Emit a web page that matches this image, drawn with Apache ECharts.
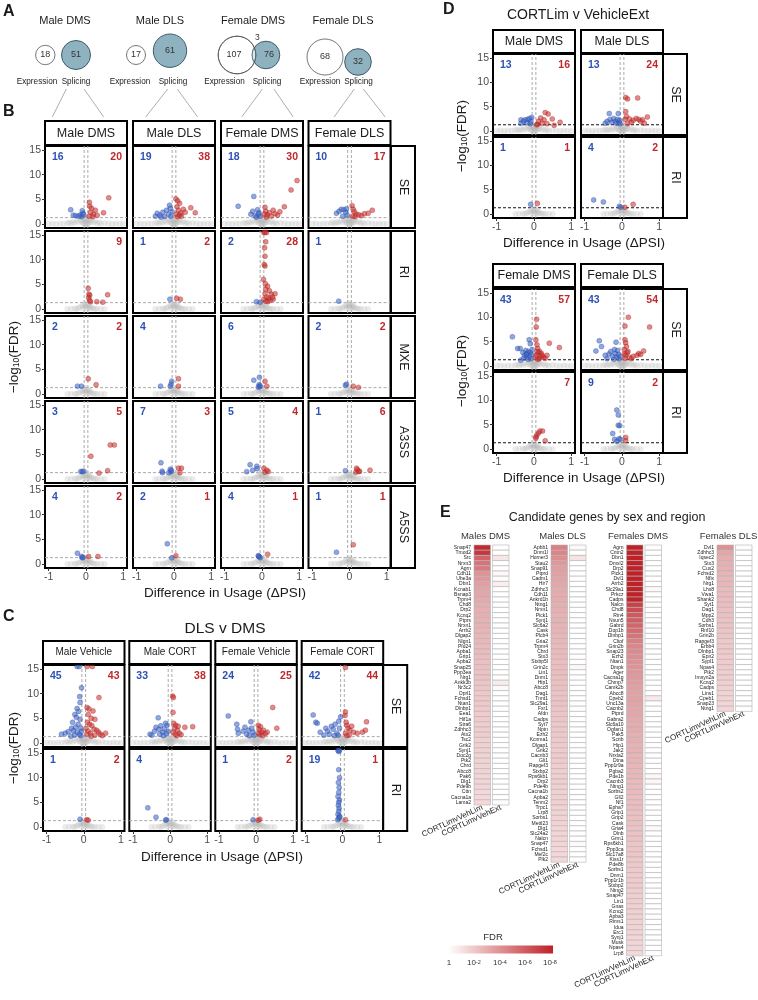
<!DOCTYPE html>
<html><head><meta charset="utf-8">
<script src="https://cdn.jsdelivr.net/npm/echarts@6.0.0/dist/echarts.min.js"></script>
<style>html,body{margin:0;padding:0;background:#fff}#c{width:758px;height:1000px}</style>
</head><body><div id="c"></div>
<script>
// ---------------- DATA ----------------
const vennGroups = ['Male DMS','Male DLS','Female DMS','Female DLS'];
const vennExpr = [18,17,107,68];
const vennSplice = [51,61,76,32];
const vennOverlap = [0,0,3,0];

const bCols = ['Male DMS','Male DLS','Female DMS','Female DLS'];
const bRows = ['SE','RI','MXE','A3SS','A5SS'];
const bBlueN = [[16,19,18,10],[null,1,2,1],[2,4,6,2],[3,7,5,1],[4,2,4,1]];
const bRedN  = [[20,38,30,17],[9,2,28,null],[2,null,null,2],[5,3,4,6],[2,1,1,1]];
const bBlue = [
 [[[-0.41,2.9],[-0.34,1.8],[-0.28,1.7],[-0.16,1.85],[-0.1,2.7],[-0.08,2.2],[-0.12,1.5],[-0.06,1.9],[-0.2,1.6]],
  [[-0.5,1.6],[-0.45,2.2],[-0.38,1.8],[-0.3,2.4],[-0.25,1.5],[-0.2,2.8],[-0.15,2.0],[-0.1,3.2],[-0.08,1.6],[-0.12,3.8],[-0.05,2.5],[-0.35,1.4]],
  [[-0.64,3.6],[-0.22,5.6],[-0.3,2.0],[-0.25,2.6],[-0.18,1.7],[-0.12,2.9],[-0.08,2.3],[-0.05,1.6],[-0.15,1.4],[-0.1,2.0]],
  [[-0.35,2.2],[-0.28,2.6],[-0.22,3.0],[-0.15,2.9],[-0.1,2.4],[-0.06,1.8],[-0.18,1.6],[-0.08,3.1]]],
 [[],[[-0.11,2.0]],[[-0.15,1.5],[-0.05,1.4]],[[-0.29,1.6]]],
 [[[-0.23,1.6],[-0.12,1.6]],
  [[-0.36,1.6],[-0.06,2.6],[-0.08,2.0],[-0.1,1.6]],
  [[-0.22,2.8],[-0.07,3.4],[-0.08,1.9],[-0.06,1.5],[-0.05,1.7],[-0.1,1.4]],
  [[-0.11,1.8],[-0.08,2.0]]],
 [[[-0.14,1.55],[-0.1,1.5],[-0.06,1.6]],
  [[-0.35,3.3],[-0.32,1.6],[-0.31,1.3],[-0.1,2.0],[-0.08,1.5],[-0.14,1.3],[-0.07,1.8]],
  [[-0.41,1.5],[-0.32,2.9],[-0.25,1.8],[-0.14,2.6],[-0.13,2.1]],
  [[-0.11,1.7]]],
 [[[-0.23,2.2],[-0.12,1.55],[-0.1,1.25],[-0.08,1.4]],
  [[-0.18,4.1],[-0.06,1.25]],
  [[-0.1,1.7],[-0.07,1.5],[-0.05,1.3],[-0.09,1.6]],
  [[-0.35,2.4]]]
];
const bRed = [
 [[[0.09,4.4],[0.1,3.6],[0.15,3.2],[0.2,2.0],[0.25,2.8],[0.12,2.4],[0.3,1.8],[0.47,2.3],[0.61,5.3],[0.08,1.6],[0.18,1.5]],
  [[0.05,5.1],[0.1,4.7],[0.15,4.2],[0.08,3.5],[0.12,2.8],[0.18,2.2],[0.06,2.0],[0.2,1.6],[0.25,3.0],[0.3,2.4],[0.1,1.5],[0.45,3.3],[0.57,2.3],[0.15,1.8]],
  [[0.94,8.8],[0.78,6.9],[0.6,3.5],[0.08,3.4],[0.1,2.6],[0.14,1.9],[0.2,2.3],[0.25,1.6],[0.3,2.8],[0.35,2.1],[0.42,1.8],[0.48,2.5],[0.12,1.4],[0.06,2.0]],
  [[0.07,3.7],[0.1,3.0],[0.13,2.5],[0.18,2.0],[0.25,1.9],[0.32,1.7],[0.4,2.1],[0.5,2.2],[0.61,2.8],[0.08,1.6],[0.15,1.5]]],
 [[[0.06,4.2],[0.08,3.0],[0.1,2.8],[0.07,2.3],[0.12,1.5],[0.29,1.5],[0.45,1.4],[0.58,2.9],[0.1,1.8]],
  [[0.07,2.2],[0.17,2.0]],
  [[0.05,15.5],[0.08,15.5],[0.12,15.5],[0.1,13.6],[0.07,12.4],[0.08,10.7],[0.06,9.0],[0.08,8.7],[0.04,6.0],[0.09,5.1],[0.15,4.6],[0.1,4.0],[0.2,3.7],[0.08,3.1],[0.25,3.0],[0.13,2.4],[0.18,2.2],[0.3,2.0],[0.22,1.8],[0.1,1.6],[0.35,3.1],[0.28,2.4],[0.05,2.0],[0.16,1.5]],
  []],
 [[[0.06,3.1],[0.27,1.9]],[[0.12,3.1],[0.12,1.6]],[[0.08,2.6],[0.13,1.6]],[[0.1,1.6],[0.24,1.35]]],
 [[[0.13,4.6],[0.35,1.2],[0.58,1.7],[0.65,6.9],[0.76,6.9]],
  [[0.12,2.2],[0.2,2.2],[0.16,1.3]],
  [[0.05,2.2],[0.08,1.4],[0.17,1.5],[0.13,1.8]],
  [[0.19,2.2],[0.17,1.4],[0.25,1.5],[0.55,1.8],[0.21,1.9],[0.27,1.6]]],
 [[[0.07,1.55],[0.32,1.55]],[[0.05,1.7]],[[0.15,2.0]],[[0.1,3.9]]]
];

const cCols = ['Male Vehicle','Male CORT','Female Vehicle','Female CORT'];
const cRows = ['SE','RI'];
const cBlueN = [[45,33,24,42],[1,4,1,19]];
const cRedN  = [[43,38,25,44],[2,null,2,1]];
const cBlue = [
 [[[-0.18,15.5],[-0.12,15.5],[-0.06,11.2],[-0.11,9.4],[-0.1,8.2],[-0.18,7.0],[-0.14,6.4],[-0.24,5.8],[-0.2,5.2],[-0.1,4.8],[-0.3,4.2],[-0.15,3.8],[-0.33,3.0],[-0.22,3.2],[-0.08,3.0],[-0.42,2.3],[-0.5,2.0],[-0.6,1.8],[-0.28,2.5],[-0.18,2.2],[-0.12,1.8],[-0.06,2.4],[-0.25,1.6],[-0.08,1.5],[-0.35,1.4]],
  [[-0.32,5.1],[-0.54,1.8],[-0.49,1.6],[-0.42,2.4],[-0.38,3.2],[-0.3,2.8],[-0.25,3.5],[-0.2,2.2],[-0.15,2.9],[-0.1,1.9],[-0.08,3.6],[-0.05,2.4],[-0.18,1.5],[-0.12,4.0],[-0.28,1.8]],
  [[-0.75,5.5],[-0.52,3.8],[-0.48,2.0],[-0.5,2.8],[-0.35,2.4],[-0.3,3.2],[-0.25,1.8],[-0.2,2.6],[-0.14,4.3],[-0.12,3.0],[-0.08,2.2],[-0.05,1.6],[-0.18,1.5]],
  [[-0.79,5.7],[-0.72,4.2],[-0.68,4.0],[-0.6,2.2],[-0.45,3.0],[-0.4,2.4],[-0.35,1.8],[-0.3,3.4],[-0.25,2.8],[-0.2,3.8],[-0.15,2.0],[-0.1,4.4],[-0.05,5.3],[-0.08,3.0],[-0.12,1.6],[-0.22,1.5],[-0.5,1.6]]],
 [[[-0.1,1.6]],
  [[-0.6,3.9],[-0.38,2.0],[-0.1,1.5],[-0.12,1.4]],
  [[-0.08,1.5]],
  [[-0.12,15.5],[-0.08,15.5],[-0.1,15.3],[-0.1,11.6],[-0.08,10.0],[-0.11,9.0],[-0.09,8.0],[-0.1,7.0],[-0.12,6.2],[-0.08,5.5],[-0.1,5.0],[-0.11,4.4],[-0.09,3.8],[-0.1,3.2],[-0.12,2.6],[-0.08,2.2],[-0.1,1.8],[-0.13,1.5],[-0.07,2.0]]]
];
const cRed = [
 [[[0.09,15.5],[0.23,15.5],[0.41,9.2],[0.09,7.2],[0.14,6.9],[0.25,6.5],[0.12,5.8],[0.2,5.0],[0.3,4.8],[0.1,4.2],[0.16,3.8],[0.22,3.5],[0.06,3.0],[0.28,2.8],[0.35,2.6],[0.12,2.4],[0.4,2.2],[0.18,2.0],[0.08,1.8],[0.3,1.6],[0.45,1.8],[0.59,2.0],[0.5,1.5],[0.2,1.4]],
  [[0.07,9.5],[0.09,9.2],[0.08,6.2],[0.1,4.0],[0.15,3.6],[0.12,3.0],[0.2,2.6],[0.08,2.2],[0.25,2.0],[0.3,1.7],[0.18,1.5],[0.4,3.2],[0.61,3.3],[0.14,1.8],[0.22,3.4]],
  [[0.45,7.2],[0.56,3.0],[0.06,3.6],[0.08,2.8],[0.12,3.3],[0.15,2.2],[0.2,2.6],[0.1,1.7],[0.25,1.9],[0.3,2.2],[0.18,1.5],[0.07,2.0]],
  [[0.08,15.3],[0.08,6.3],[0.07,5.6],[0.1,4.2],[0.12,3.6],[0.15,3.0],[0.2,2.6],[0.25,3.4],[0.08,2.0],[0.3,2.2],[0.4,2.0],[0.54,2.2],[0.62,2.6],[0.65,4.3],[0.18,1.6],[0.12,1.5]]],
 [[[0.08,1.5],[0.12,1.4]],[],[[0.1,1.6],[0.06,1.4]],[[0.08,1.5]]]
];

const dTopCols = ['Male DMS','Male DLS'];
const dBotCols = ['Female DMS','Female DLS'];
const dRows = ['SE','RI'];
const dTopBlueN = [[13,13],[1,4]];
const dTopRedN  = [[16,24],[1,2]];
const dBotBlueN = [[43,43],[null,9]];
const dBotRedN  = [[57,54],[7,2]];
const dTopBlue = [
 [[[-0.35,2.3],[-0.35,1.6],[-0.24,2.3],[-0.17,2.4],[-0.12,2.6],[-0.06,2.8],[-0.2,1.7],[-0.08,1.9],[-0.28,2.0],[-0.1,1.5]],
  [[-0.34,3.6],[-0.1,3.6],[-0.45,1.6],[-0.4,2.0],[-0.32,2.4],[-0.28,1.8],[-0.22,2.6],[-0.18,2.0],[-0.15,1.6],[-0.12,2.4],[-0.08,1.8],[-0.06,2.2],[-0.05,1.5]]],
 [[[-0.09,2.0]],[[-0.76,2.9],[-0.5,2.5],[-0.07,1.6],[-0.03,1.4]]]
];
const dTopRed = [
 [[[0.3,3.8],[0.38,3.5],[0.18,2.7],[0.27,2.3],[0.49,2.5],[0.7,1.8],[0.54,1.2],[0.1,1.4],[0.07,1.3],[0.12,2.0],[0.22,1.6],[0.35,1.5]],
  [[0.1,6.9],[0.15,6.6],[0.42,6.8],[0.1,4.0],[0.12,3.0],[0.08,2.4],[0.2,2.5],[0.3,2.2],[0.38,2.6],[0.45,2.4],[0.5,2.0],[0.55,2.3],[0.68,2.9],[0.6,1.6],[0.25,1.8],[0.15,1.5]]],
 [[[0.09,2.2]],[[0.3,2.0],[0.08,1.4]]]
];
const dBotBlue = [
 [[[-0.58,6.0],[-0.44,3.6],[-0.37,3.6],[-0.36,1.2],[-0.13,5.4],[-0.1,4.6],[-0.3,2.8],[-0.25,2.2],[-0.22,3.2],[-0.2,1.8],[-0.18,2.6],[-0.15,3.0],[-0.12,2.0],[-0.1,2.8],[-0.08,1.5],[-0.06,2.4],[-0.28,1.6],[-0.16,1.4],[-0.05,3.4],[-0.2,2.4]],
  [[-0.61,5.2],[-0.7,3.1],[-0.55,4.0],[-0.4,1.5],[-0.16,4.9],[-0.35,2.5],[-0.3,3.0],[-0.25,2.0],[-0.2,3.4],[-0.18,2.6],[-0.14,1.8],[-0.12,3.2],[-0.1,2.4],[-0.08,1.5],[-0.05,2.0],[-0.22,1.4],[-0.45,2.2]]],
 [[],[[-0.14,8.0],[-0.1,7.0],[-0.1,4.9],[-0.06,4.8],[-0.25,3.2],[-0.2,2.0],[-0.08,2.1],[-0.14,1.6],[-0.04,2.0]]]
];
const dBotRed = [
 [[[0.07,9.6],[0.06,8.0],[0.41,4.7],[0.68,3.8],[0.05,5.4],[0.08,4.4],[0.1,3.6],[0.12,2.8],[0.06,2.2],[0.15,3.0],[0.18,2.0],[0.2,2.6],[0.25,1.8],[0.3,1.6],[0.35,2.2],[0.1,1.4],[0.08,3.0],[0.14,1.5],[0.22,2.2],[0.05,1.8]],
  [[0.17,10.0],[0.08,8.2],[0.74,8.0],[0.58,3.1],[0.45,2.6],[0.4,2.2],[0.08,5.4],[0.1,4.8],[0.12,4.0],[0.06,3.4],[0.14,2.8],[0.1,2.2],[0.08,1.6],[0.2,1.8],[0.3,2.0],[0.16,3.0],[0.06,2.5],[0.5,2.4],[0.25,1.5]]],
 [[[0.05,2.2],[0.08,2.9],[0.12,3.3],[0.16,3.7],[0.23,3.7],[0.3,1.7],[0.05,2.5]],[[0.1,2.4],[0.1,1.7]]]
];

const graySE = [[-1.0,0.05],[-0.9,0.1],[-0.8,0.0],[-0.7,0.1],[-0.6,0.05],[-0.5,0.15],[-0.45,0.3],[-0.4,0.1],[-0.35,0.4],[-0.3,0.2],[-0.25,0.6],[-0.2,0.3],[-0.15,0.8],[-0.12,0.5],[-0.1,1.0],[-0.08,0.2],[-0.05,1.2],[-0.03,0.6],[0,0.9],[0,0.3],[0.02,1.1],[0.04,0.5],[0.06,0.8],[0.08,0.2],[0.1,1.0],[0.12,0.4],[0.15,0.7],[0.2,0.3],[0.25,0.5],[0.3,0.1],[0.35,0.3],[0.4,0.05],[0.5,0.2],[0.6,0.1],[0.7,0.0],[0.8,0.1],[0.9,0.05],[1.0,0.0],[-0.02,0.05],[0.02,0.1],[-0.06,0.1],[0.05,0.0]];
const grayOther = [[-0.4,0.05],[-0.3,0.1],[-0.25,0.0],[-0.2,0.2],[-0.15,0.4],[-0.1,0.7],[-0.08,0.2],[-0.05,1.0],[-0.03,0.5],[0,1.2],[0,0.3],[0.02,0.8],[0.04,0.1],[0.06,0.9],[0.08,0.4],[0.1,0.6],[0.12,0.1],[0.15,0.3],[0.2,0.1],[0.25,0.0],[0.3,0.05],[0.4,0.0],[-0.5,0.0],[0.5,0.0]];
const cutoffDPSI = [-0.05,0.05];
const cutoffLogFDR = 1.3;

const heatCols = ['CORTLimvVehLim','CORTLimvVehExt'];
const mdmsGenes = ['Snap47','Tmod2','Src','Nrxn3','Agrn','Cdh11','Ube3a','Dbn1','Kcnab1','Bsnap3','Trpm4','Chd8','Drp2','Kcnq2','Ptprs','Nrxn1','Arrb2','Dlgap2','Nlgn1','Pfd24','Apba1','Grip1','Apba2','Snap25','Ppp3ea','Nrg1','Ankk3b','Nr3c2','Oprl1','Fchsd1','Ntan1','Dlnbp1','Eea1','Hif1a','Stra6','Zdhhc3','Atx2','Tsc2','Grik2','Synj1','Doc2g','Ptk2','Chrd','Abcc8','Pak6','Dlg1','Pde9b','Cttn','Cacna1a','Lama2'];
const mdmsLim = [7.6,7.2,5.6,5.0,4.8,3.9,3.7,3.5,3.3,3.2,3.1,3.0,2.9,2.9,2.8,2.8,2.7,2.6,2.6,2.5,2.5,2.4,2.3,2.3,2.2,2.2,2.1,2.1,2.0,2.0,2.0,1.9,1.9,1.9,1.8,1.8,1.8,1.7,1.7,1.7,1.6,1.6,1.6,1.6,1.5,1.5,1.5,1.4,1.4,1.4];
const mdmsExt = [0,0,0.9,0,0,0.3,0.1,0.6,0,0,0,0,0,0,0,0,0,0,0,0,0,0,0,0,0,0,0.7,0.2,0,0,0,0,0,0,0,0,0,0,0,0,0,0,0,0,0,0,0,0,0,0.1];
const mdlsGenes = ['Apbb1','Dnm1l','Homer3','Stau2','Snap91','Ptprd','Cadm1','Hir7','Zdhhc3','Cdh11','Ankrd1b','Ntng1','Nrxn1','Pick1','Synj1','Slc6a2','Cask','Plcb4','Gria2','Trpm4','Chrd','Stx3','Stxbp5l','Grin2c','Lin1','Dnm1','Hip1','Abcc8','Dag1','Tnnt1','Slc29a1','Fxr1','Afdn','Cadps','Syt7','Nptn','Ezh2','Kcnma1','Dlgap1','Grik2','Cacnb3','Gli1','Rapgef3','Stxbp2','Rps6kb1','Drp2','Pde4b','Cacna1b','Apba2','Tenm2','Trpc1','Lrp8','Sorbs1','Mettl23','Dlg1','Slc24a2','Nalcn','Snap47','Fchsd1','Mef2c','Plk2'];
const mdlsLim = [4.6,4.4,4.1,3.7,3.5,3.4,3.3,3.2,3.1,3.0,3.0,2.9,2.9,2.8,2.8,2.7,2.7,2.6,2.6,2.5,2.5,2.5,2.4,2.4,2.4,2.3,2.3,2.3,2.2,2.2,2.2,2.1,2.1,2.1,2.0,2.0,2.0,2.0,1.9,1.9,1.9,1.9,1.8,1.8,1.8,1.8,1.7,1.7,1.7,1.7,1.6,1.6,1.6,1.6,1.5,1.5,1.5,1.5,1.4,1.4,1.4];
const mdlsExt = [0.2,0,1.0,0,0,0,0,0,0,0,0,0,0,0,0,0,0,0,0,0,0,0,0,0.3,0,0,0,0,0,0,0,0,0,0,0,0,0,0,0,0,0,0,0,0,0,0,0,0,0,0,0,0,0,0,0,0,0,0.2,0,0,0];
const fdmsGenes = ['Agrn','Cntn2','Dbn1','Dmxl2','Drp2','Pick1','Dvl1','Arrb2','Slc29a1','Prkcz','Cadps','Nalcn','Chd8','Rin4','Nsun5','Gabrd','Dop1b','Dlnbp1','Cltof','Grin2b','Snap23','Ezh2','Ntan1','Dmpk','Ager','Cacna1g','Chmp7','Camk2b','Abcc8','Cpeb2','Unc13a','Cacnb2','Ptprd','Gabra2','Slc6a10','Ogfan1','Pak5','Scrib','Hip1','Jak2','Nrxla2','Dtna','Ppp1r9a','Pgba2','Pde1b','Cacnb3','Ntng1','Sorbs2','Gll2','Nf1','Epha7','Grip1','Grip2','Cask','Gria4','Dlnb','Grm1','Rps6kb1','Ppp3ca','Slc17a8','Kiss1r','Pde8b','Sorbs1','Dnm1','Ppp1r1b','Stxbp2','Ntng2','Snap47','Lin1','Gnas','Kcnq2','Apba3','Rims1','Idua','Erc1','Synj1','Musk','Npas4','Lrp8'];
const fdmsLim = [8.5,8.4,8.3,8.2,8.2,8.1,8.1,8.0,8.0,8.0,7.9,6.8,6.4,6.0,5.8,5.5,5.3,5.0,4.6,4.4,4.2,4.1,4.0,3.9,3.8,3.7,3.6,3.5,3.4,3.4,3.3,3.2,3.2,3.1,3.0,3.0,2.9,2.9,2.8,2.8,2.7,2.7,2.6,2.6,2.6,2.5,2.5,2.5,2.4,2.4,2.4,2.3,2.3,2.3,2.2,2.2,2.2,2.1,2.1,2.1,2.0,2.0,2.0,1.9,1.9,1.9,1.8,1.8,1.8,1.7,1.7,1.7,1.6,1.6,1.6,1.5,1.5,1.5,1.4];
const fdmsExt = [0,0,0,0,0,0,0,0,0.3,0,0,0,0,0,0,0,0,0,0,0,0,0,0,0,0,0,0,0,0,0.8,0,0,0,0,0,0,0,0,0,0,0,0,0,0,0.3,0.3,0,0,0,0,0,0,0,0,0.2,0,0,0,0,0,0,0,0,0,0,0,0,0,0,0,0,0,0,0,0,0,0,0,0];
const fdlsGenes = ['Dvl1','Zdhhc3','Iqsec2','Stx3','Cux2','Fchsd2','Nfix','Nrg1','Lhx8','Vwa1','Shank2','Syt1','Dag1','Mpp2','Cdh3','Sorbs1','Rnf10','Grin2b','Rapgef3','Erbb4','Dlnbp1','Epn2','Sypl1','Npas4','Ptk2','Imsyn2a','Kcnq2','Cadps','Lins1','Cpeb1','Snap23','Ntng1'];
const fdlsLim = [4.0,3.2,3.0,2.9,2.8,2.7,2.6,2.6,2.5,2.5,2.4,2.4,2.3,2.3,2.2,2.2,2.1,2.1,2.0,2.0,2.0,1.9,1.9,1.9,1.8,1.8,1.7,1.7,1.6,1.6,1.5,1.5];
const fdlsExt = [0.1,0,0,0,0,0,0,0,0,0,0,0,0,0,0,0,0,0,0,0,0,0,0,0,0,0,0,0,0,0,0,0];
const fdrTicks = ['1','10{s|-2}','10{s|-4}','10{s|-6}','10{s|-8}'];

// ---------------- LAYOUT / BUILD ----------------
const FONT = "'Liberation Sans', Arial, Helvetica, sans-serif";
const grids=[], xAxis=[], yAxis=[], series=[], graphic=[];
const BLUE_T='#2d52b5', RED_T='#c0282a';
const X_MIN=-1.1, X_MAX=1.1, Y_MIN=-0.8, Y_MAX=15.8;
function txt(x,y,text,o){o=o||{};graphic.push({type:'text',x:x,y:y,rotation:o.rot||0,z:20,silent:true,
  style:{text:text,fill:o.color||'#1a1a1a',fontSize:o.size||12,fontFamily:FONT,fontWeight:o.weight||'normal',
  align:o.align||'center',verticalAlign:o.va||'middle',rich:o.rich}});}
function box(x,y,w,h){graphic.push({type:'rect',z:15,silent:true,shape:{x:x,y:y,width:w,height:h},style:{fill:'#fff',stroke:'#000',lineWidth:2}});}
function line(x1,y1,x2,y2,c,w){graphic.push({type:'line',z:15,silent:true,shape:{x1:x1,y1:y1,x2:x2,y2:y2},style:{stroke:c||'#999',lineWidth:w||0.8}});}
function circle(cx,cy,r,fill,stroke,lw,z){graphic.push({type:'circle',z:z||15,silent:true,shape:{cx:cx,cy:cy,r:r},style:{fill:fill,stroke:stroke,lineWidth:lw}});}
function refLine(gi,data,color){series.push({type:'line',xAxisIndex:gi,yAxisIndex:gi,data:data,symbol:'none',silent:true,z:1,
  lineStyle:{type:[3,2],width:1,color:color}});}

function addScatter(p){
  const gi=grids.length;
  grids.push({left:p.left,top:p.top,width:p.w,height:p.h,show:true,borderColor:'#000',borderWidth:2,backgroundColor:'#fff'});
  xAxis.push({gridIndex:gi,type:'value',min:X_MIN,max:X_MAX,splitLine:{show:false},axisLine:{show:false,onZero:false},
    axisTick:{show:!!p.showX,customValues:[-1,0,1],length:3,lineStyle:{color:'#333'}},
    axisLabel:{show:!!p.showX,customValues:[-1,0,1],fontSize:10.5,color:'#4d4d4d',margin:4,fontFamily:FONT}});
  yAxis.push({gridIndex:gi,type:'value',min:Y_MIN,max:Y_MAX,splitLine:{show:false},axisLine:{show:false,onZero:false},
    axisTick:{show:!!p.showY,customValues:[0,5,10,15],length:3,lineStyle:{color:'#333'}},
    axisLabel:{show:!!p.showY,customValues:[0,5,10,15],fontSize:10.5,color:'#4d4d4d',margin:4,fontFamily:FONT}});
  series.push({type:'scatter',xAxisIndex:gi,yAxisIndex:gi,data:p.gray,symbolSize:6,silent:true,z:2,
    itemStyle:{color:'rgba(185,185,185,0.35)'}});
  cutoffDPSI.forEach(v=>refLine(gi,[[v,Y_MIN],[v,Y_MAX]],'#aaaaaa'));
  refLine(gi,[[X_MIN,cutoffLogFDR],[X_MAX,cutoffLogFDR]],p.hColor||'#aaaaaa');
  series.push({type:'scatter',xAxisIndex:gi,yAxisIndex:gi,data:p.blue,symbolSize:5,silent:true,z:3,
    itemStyle:{color:'rgba(58,99,196,0.7)',borderColor:'rgba(40,70,160,0.8)',borderWidth:0.5}});
  series.push({type:'scatter',xAxisIndex:gi,yAxisIndex:gi,data:p.red,symbolSize:5,silent:true,z:3,
    itemStyle:{color:'rgba(201,48,47,0.7)',borderColor:'rgba(160,30,30,0.8)',borderWidth:0.5}});
  if(p.nb!=null) txt(p.left+7,p.top+11.5,String(p.nb),{color:BLUE_T,weight:'bold',size:10.5,align:'left'});
  if(p.nr!=null) txt(p.left+p.w-5,p.top+11.5,String(p.nr),{color:RED_T,weight:'bold',size:10.5,align:'right'});
}
const yTitleRich={a:{fontSize:13.5,fontFamily:FONT,fill:'#1a1a1a'},b:{fontSize:8.5,fontFamily:FONT,fill:'#1a1a1a',verticalAlign:'bottom',lineHeight:11}};
function yTitle(x,y){txt(x,y,'{a|−log}{b|10}{a|(FDR)}',{rot:Math.PI/2,rich:yTitleRich});}

// Panel letters
txt(3,12,'A',{weight:'bold',size:16,align:'left'});
txt(3,112,'B',{weight:'bold',size:16,align:'left'});
txt(3,617,'C',{weight:'bold',size:16,align:'left'});
txt(443,10,'D',{weight:'bold',size:16,align:'left'});
txt(440,513,'E',{weight:'bold',size:16,align:'left'});

// ---- Panel A: Venn ----
const vennTitleX=[65,160,253,343];
const vennC=[[[45.3,55],[76,55]],[[136,55],[170,50.7]],[[237,55],[266,55]],[[325,57],[358,62]]];
const vennR=[[9.7,14.5],[9.5,16.7],[18.8,13.8],[18,13.3]];
const vennLblX=[[37,76],[130,173],[224.5,267],[320,358.5]];
const vennLines=[[[66.3,52.3],[84.1,103.7]],[[167.7,145.7],[177.3,197.6]],[[262.4,241.7],[273.9,293.2]],[[354.3,334.1],[363.3,385.2]]];
vennGroups.forEach((g,i)=>{
  txt(vennTitleX[i],21,g,{size:11});
  const e=vennC[i][0], s=vennC[i][1], re=vennR[i][0], rs=vennR[i][1];
  circle(e[0],e[1],re,'#fff','#555',0.8,15);
  circle(s[0],s[1],rs,'#8fb2c0','#3e5d6a',1,16);
  if(vennOverlap[i]>0){
    const d=s[0]-e[0], a=(d*d+re*re-rs*rs)/(2*d), h=Math.sqrt(re*re-a*a), px=e[0]+a;
    const pts=[]; const N=24;
    const t1=Math.atan2(-h,px-s[0])+2*Math.PI, t2=Math.atan2(h,px-s[0]);
    for(let k=0;k<=N;k++){const t=t1+(t2-t1)*k/N;pts.push([s[0]+rs*Math.cos(t),s[1]+rs*Math.sin(t)]);}
    const b1=Math.atan2(h,px-e[0]), b2=Math.atan2(-h,px-e[0]);
    for(let k=0;k<=N;k++){const t=b1+(b2-b1)*k/N;pts.push([e[0]+re*Math.cos(t),e[1]+re*Math.sin(t)]);}
    graphic.push({type:'polygon',z:17,silent:true,shape:{points:pts},style:{fill:'#d6eaf1',stroke:'#3e5d6a',lineWidth:0.8}});
    circle(e[0],e[1],re,'none','#555',0.8,18);
    txt(px+3,38,String(vennOverlap[i]),{size:8.5,color:'#333'});
    txt(e[0]-3,e[1],String(vennExpr[i]),{size:9,color:'#333'});
    txt(s[0]+3,s[1],String(vennSplice[i]),{size:9,color:'#333'});
  } else {
    txt(e[0],e[1],String(vennExpr[i]),{size:9,color:'#333'});
    txt(s[0],s[1],String(vennSplice[i]),{size:9,color:'#333'});
  }
  txt(vennLblX[i][0],82,'Expression',{size:8.2,color:'#222'});
  txt(vennLblX[i][1],82,'Splicing',{size:8.2,color:'#222'});
  line(vennLines[i][0][0],89,vennLines[i][0][1],117);
  line(vennLines[i][1][0],89,vennLines[i][1][1],117);
});

// ---- Panel B ----
const B_L=[45,133,221,308.5], B_T=[146,231,316,401,486], PW=82, PH=82;
bCols.forEach((n,c)=>{box(B_L[c],121,PW,24);txt(B_L[c]+PW/2,133.5,n,{size:12.5});});
bRows.forEach((n,r)=>{
  box(391,B_T[r],24,PH);txt(403,B_T[r]+PH/2,n,{size:12.5,rot:-Math.PI/2});
  bCols.forEach((_,c)=>addScatter({left:B_L[c],top:B_T[r],w:PW,h:PH,showX:r===bRows.length-1,showY:c===0,
    gray:r===0?graySE:grayOther,blue:bBlue[r][c],red:bRed[r][c],nb:bBlueN[r][c],nr:bRedN[r][c]}));
});
txt(225,593,'Difference in Usage (ΔPSI)',{size:13.5});
yTitle(14,357);

// ---- Panel C ----
txt(225,629,'DLS v DMS',{size:15.5});
const C_L=[43,129.3,215.3,301.7], C_T=[665,749], CW=81.5;
cCols.forEach((n,c)=>{box(C_L[c],641,CW,23);txt(C_L[c]+CW/2,652.5,n,{size:10});});
cRows.forEach((n,r)=>{
  box(383.2,C_T[r],24,PH);txt(395.2,C_T[r]+PH/2,n,{size:12.5,rot:-Math.PI/2});
  cCols.forEach((_,c)=>addScatter({left:C_L[c],top:C_T[r],w:CW,h:PH,showX:r===1,showY:c===0,
    gray:r===0?graySE:grayOther,blue:cBlue[r][c],red:cRed[r][c],nb:cBlueN[r][c],nr:cRedN[r][c]}));
});
txt(222,857,'Difference in Usage (ΔPSI)',{size:13.5});
yTitle(14,748);

// ---- Panel D ----
txt(578,15,'CORTLim v VehicleExt',{size:14});
const D_L=[493,581], DW=82, DH=81;
function dBlock(cols,stripTop,rowTops,blue,red,nb,nr,xTitleY){
  cols.forEach((n,c)=>{box(D_L[c],stripTop,DW,23);txt(D_L[c]+DW/2,stripTop+12,n,{size:12.5});});
  dRows.forEach((n,r)=>{
    box(663,rowTops[r],24,DH);txt(675,rowTops[r]+DH/2,n,{size:12.5,rot:-Math.PI/2});
    cols.forEach((_,c)=>addScatter({left:D_L[c],top:rowTops[r],w:DW,h:DH,showX:r===1,showY:c===0,hColor:'#111',
      gray:r===0?graySE:grayOther,blue:blue[r][c],red:red[r][c],nb:nb[r][c],nr:nr[r][c]}));
  });
  txt(584,xTitleY,'Difference in Usage (ΔPSI)',{size:13.5});
  yTitle(462,(rowTops[0]+rowTops[1]+DH)/2);
}
dBlock(dTopCols,30,[54,137],dTopBlue,dTopRed,dTopBlueN,dTopRedN,243);
dBlock(dBotCols,264,[289,372],dBotBlue,dBotRed,dBotBlueN,dBotRedN,478);

// ---- Panel E ----
txt(607,518,'Candidate genes by sex and region',{size:12.5});
const HEAT_TOP=545, RH=5.2;
function heatColor(v){const t=Math.max(0,Math.min(1,v/8));
  return 'rgb('+Math.round(255-65*t)+','+Math.round(255-222*t)+','+Math.round(255-215*t)+')';}
function addHeat(left,genes,lim,ext,title){
  const gi=grids.length;
  grids.push({left:left,top:HEAT_TOP,width:37,height:genes.length*RH,show:false});
  xAxis.push({gridIndex:gi,type:'category',data:heatCols,position:'bottom',axisLine:{show:false},axisTick:{show:false},
    axisLabel:{rotate:25,fontSize:8,margin:2,interval:0,color:'#222',fontFamily:FONT},splitLine:{show:false}});
  yAxis.push({gridIndex:gi,type:'category',data:genes,inverse:true,axisLine:{show:false},axisTick:{show:false},
    axisLabel:{fontSize:5,margin:2,interval:0,color:'#222',fontFamily:FONT},splitLine:{show:false}});
  const data=[];genes.forEach((g,i)=>{data.push([0,i,lim[i]]);data.push([1,i,ext[i]]);});
  series.push({type:'custom',xAxisIndex:gi,yAxisIndex:gi,data:data,silent:true,
    renderItem:function(params,api){const c=api.coord([api.value(0),api.value(1)]);const s=api.size([1,1]);
      return {type:'rect',shape:{x:c[0]-s[0]/2+1,y:c[1]-s[1]/2,width:s[0]-2,height:s[1]},
        style:{fill:heatColor(api.value(2)),stroke:'#b4b4b4',lineWidth:0.6}};}});
  txt(left+18.5-6,536,title,{size:9.5,color:'#333'});
}
addHeat(473,mdmsGenes,mdmsLim,mdmsExt,'Males DMS');
addHeat(550,mdlsGenes,mdlsLim,mdlsExt,'Males DLS');
addHeat(625.5,fdmsGenes,fdmsLim,fdmsExt,'Females DMS');
addHeat(716,fdlsGenes,fdlsLim,fdlsExt,'Females DLS');

// legend
txt(493,937,'FDR',{size:9.5,color:'#333'});
graphic.push({type:'rect',z:15,silent:true,shape:{x:448,y:945.5,width:105,height:8},
  style:{fill:{type:'linear',x:0,y:0,x2:1,y2:0,colorStops:[{offset:0,color:heatColor(0)},{offset:0.5,color:heatColor(4)},{offset:1,color:heatColor(8)}]}}});
const legX=[449,474,500,525,550];
fdrTicks.forEach((t,i)=>txt(legX[i],963,t,{size:8,color:'#333',rich:{s:{fontSize:5.5,fontFamily:FONT,fill:'#333',verticalAlign:'top',lineHeight:6}}}));

const chart=echarts.init(document.getElementById('c'),null,{renderer:'canvas'});
chart.setOption({animation:false,backgroundColor:'#fff',grid:grids,xAxis:xAxis,yAxis:yAxis,series:series,graphic:graphic});
</script></body></html>
